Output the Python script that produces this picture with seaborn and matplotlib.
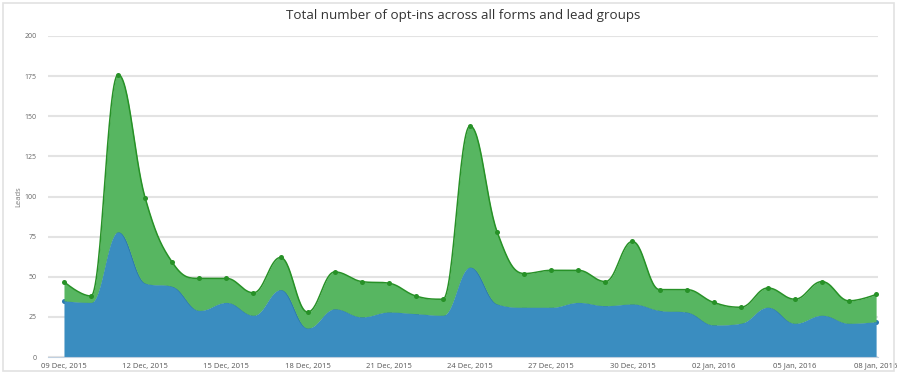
import numpy as np
import pandas as pd
import matplotlib
matplotlib.use("Agg")
import matplotlib.pyplot as plt
import seaborn as sns
from matplotlib.patches import Rectangle

# ---- data ----
dates = pd.date_range("2015-12-09", "2016-01-08", freq="D")
total_leads = [47, 38, 176, 99, 59, 49, 49, 40, 62, 28, 53, 47, 46, 38, 36,
               144, 78, 52, 54, 54, 47, 72, 42, 42, 34, 31, 43, 36, 47, 35, 39]
blue_leads = [35, 34, 78, 46, 44, 29, 34, 26, 42, 18, 30, 25, 28, 27, 26,
              56, 33, 31, 31, 34, 32, 33, 29, 28, 20, 21, 31, 21, 26, 21, 22]
tick_labels = ["09 Dec, 2015", "12 Dec, 2015", "15 Dec, 2015", "18 Dec, 2015",
               "21 Dec, 2015", "24 Dec, 2015", "27 Dec, 2015", "30 Dec, 2015",
               "02 Jan, 2016", "05 Jan, 2016", "08 Jan, 2016"]
y_ticks = [0, 25, 50, 75, 100, 125, 150, 175, 200]
title = "Total number of opt-ins across all forms and lead groups"
y_label = "Leads"

days = np.arange(len(dates), dtype=float)
green_layer = np.array(total_leads) - np.array(blue_leads)
stack_top = np.array(blue_leads) + green_layer


def spline_curve(x, y, smoothing=1.5, steps=30):
    """Highcharts-style spline through the data points (rendering only)."""
    x = list(map(float, x)); y = list(map(float, y))
    n = len(x); denom = smoothing + 1
    lc = [(x[i], y[i]) for i in range(n)]
    rc = [(x[i], y[i]) for i in range(n)]
    for i in range(1, n - 1):
        lx = (smoothing * x[i] + x[i - 1]) / denom
        ly = (smoothing * y[i] + y[i - 1]) / denom
        rx = (smoothing * x[i] + x[i + 1]) / denom
        ry = (smoothing * y[i] + y[i + 1]) / denom
        if rx != lx:
            corr = ((ry - ly) * (rx - x[i])) / (rx - lx) + y[i] - ry
            ly += corr; ry += corr
        if ly > y[i - 1] and ly > y[i]:
            ly = max(y[i - 1], y[i]); ry = 2 * y[i] - ly
        elif ly < y[i - 1] and ly < y[i]:
            ly = min(y[i - 1], y[i]); ry = 2 * y[i] - ly
        if ry > y[i + 1] and ry > y[i]:
            ry = max(y[i + 1], y[i]); ly = 2 * y[i] - ry
        elif ry < y[i + 1] and ry < y[i]:
            ry = min(y[i + 1], y[i]); ly = 2 * y[i] - ry
        lc[i] = (lx, ly); rc[i] = (rx, ry)
    xs, ys = [x[0]], [y[0]]
    t = np.linspace(0, 1, steps)[1:]
    for i in range(1, n):
        p0 = np.array([x[i - 1], y[i - 1]]); p1 = np.array(rc[i - 1])
        p2 = np.array(lc[i]); p3 = np.array([x[i], y[i]])
        pts = ((1 - t)[:, None] ** 3 * p0 + 3 * ((1 - t) ** 2 * t)[:, None] * p1
               + 3 * ((1 - t) * t ** 2)[:, None] * p2 + (t ** 3)[:, None] * p3)
        xs.extend(pts[:, 0]); ys.extend(pts[:, 1])
    return np.array(xs), np.array(ys)


sns.set_theme(style="white")
plt.rcParams['font.family'] = ['Open Sans', 'DejaVu Sans']

fig = plt.figure(figsize=(8.98, 3.73), dpi=100)
ax = fig.add_axes([48 / 898, 1 - 357 / 373, (878 - 48) / 898, (357 - 36) / 373])

blue_fill = "#3a8dc0"
blue_line = "#2b78ad"
green_fill = "#57b661"
green_line = "#279127"

bx, by = spline_curve(days, blue_leads)
tx, ty = spline_curve(days, stack_top)

# blue layer (markers below the fill: only the parts outside show)
sns.scatterplot(x=days, y=blue_leads, ax=ax, color=blue_line, s=13,
                linewidth=0, zorder=1.5)
ax.fill_between(bx, 0, by, color=blue_fill, lw=0, zorder=2)
sns.lineplot(x=bx, y=by, ax=ax, color=blue_line, lw=0.9, sort=False,
             estimator=None, zorder=3)
# green layer (stacked)
ax.fill_between(tx, by, ty, color=green_fill, lw=0, zorder=4)
sns.lineplot(x=tx, y=ty, ax=ax, color=green_line, lw=1.1, sort=False,
             estimator=None, zorder=5)
sns.scatterplot(x=days, y=stack_top, ax=ax, color=green_line, s=13,
                linewidth=0, zorder=6)

ax.set_xlim(-0.59, 30.07)
ax.set_ylim(0, 200)
ax.set_yticks(y_ticks)
ax.set_yticklabels([str(v) for v in y_ticks])
ax.set_xticks(days[::3])
ax.set_xticklabels(tick_labels)
ax.tick_params(axis='y', labelsize=5, colors="#666666", length=0, pad=8)
ax.tick_params(axis='x', labelsize=5.5, colors="#555555", length=2,
               width=0.6, pad=2)
ax.yaxis.grid(True, color="#e3e3e3", lw=1.5, zorder=0)
ax.xaxis.grid(False)
ax.set_axisbelow(True)
for s in ["top", "right", "left"]:
    ax.spines[s].set_visible(False)
ax.spines["bottom"].set_color("#c0d0e0")
ax.spines["bottom"].set_linewidth(0.8)
ax.set_xlabel("")
ax.set_ylabel(y_label, fontsize=5.5, color="#777777", labelpad=1.5)

fig.text(463 / 898, 1 - 16 / 373, title, ha="center", va="center",
         fontsize=9.6, color="#333333")

fig.patches.append(Rectangle((3 / 898, 2 / 373), 891 / 898, 368 / 373,
                             transform=fig.transFigure, fill=False,
                             edgecolor="#e2e2e2", lw=1.2))

fig.savefig("out.png", dpi=100)
